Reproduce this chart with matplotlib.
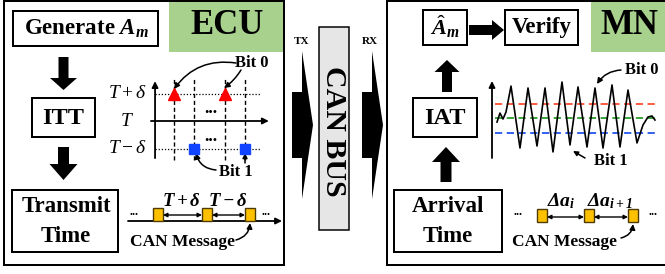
import numpy as np
import matplotlib.pyplot as plt
from matplotlib.patches import Rectangle, FancyArrow

plt.rcParams['font.family'] = ['Liberation Serif', 'DejaVu Serif']
plt.rcParams.update({'mathtext.fontset': 'custom',
                     'mathtext.rm': 'Liberation Serif',
                     'mathtext.it': 'Liberation Serif:italic',
                     'mathtext.bf': 'Liberation Serif:bold:italic'})

# ---- data ----
itt_levels = [1, 0, -1]
itt_level_labels = [r'$T+\delta$', r'$T$', r'$T-\delta$']
itt_slots = [1, 2, 3.5, 4.5]          # transmission slots
itt_bits = [0, 1, 0, 1]               # bit 0 -> T+d, bit 1 -> T-d

iat_t = [2, 5, 8, 11, 16, 25, 33, 42, 50, 58, 67, 75, 83, 92, 100, 108,
         117, 125, 133, 142, 148, 153, 157, 160]
iat_v = [-0.28, 0.34, -0.07, 0.41, 2.2, -2.07, 2.07, -1.93, 2.07, -2.34,
         2.48, -1.86, 2.14, -2.0, 2.07, -2.07, 2.28, -2.0, 1.93, -1.72,
         -0.48, 0.07, 0.14, -0.14]
iat_thresholds = [1, 0, -1]
iat_colors = ['#ff4d2e', '#2a9d2a', '#2255ee']

tx_gaps = [49, 43]
tx_gap_labels = [r'$\mathbf{T+\delta}$', r'$\mathbf{T-\delta}$']
rx_gaps = [47, 44]
rx_gap_labels = [r'$\mathbf{\Delta a}_{\mathbf{i}}$', r'$\mathbf{\Delta a}_{\mathbf{i+1}}$']

W, H = 665, 274
PX = 0.72
fig = plt.figure(figsize=(W / 100, H / 100), dpi=100)
ax = fig.add_axes([0, 0, 1, 1])
ax.set_xlim(0, W)
ax.set_ylim(H, 0)
ax.axis('off')

GREEN = '#a9d18e'


def box(x0, y0, x1, y1, fc='white', lw=2, z=2):
    ax.add_patch(Rectangle((x0, y0), x1 - x0, y1 - y0, fc=fc, ec='black',
                           lw=lw * PX, zorder=z))


def txt(x, y, s, size, **kw):
    kw.setdefault('fontweight', 'bold')
    ax.text(x, y, s, fontsize=size, ha=kw.pop('ha', 'center'),
            va=kw.pop('va', 'center'), zorder=5, **kw)


def block_arrow(x, y, dx, dy, w, hw, hl):
    ax.add_patch(FancyArrow(x, y, dx, dy, width=w, head_width=hw, head_length=hl,
                            length_includes_head=True, fc='black', ec='black',
                            lw=0, zorder=4))


def curved(xy, xytext, rad, ms=8):
    ax.annotate('', xy=xy, xytext=xytext, zorder=6,
                arrowprops=dict(arrowstyle='-|>', color='black', lw=1.1,
                                shrinkA=0, shrinkB=0, mutation_scale=ms,
                                connectionstyle='arc3,rad=%s' % rad))


def inset(x0, y0, x1, y1):
    a = fig.add_axes([x0 / W, 1 - y1 / H, (x1 - x0) / W, (y1 - y0) / H])
    a.axis('off')
    a.patch.set_alpha(0)
    return a


# ---- left panel (ECU) ----
box(4, 1, 284, 265, z=1)
ax.add_patch(Rectangle((169, 2), 114, 50, fc=GREEN, ec='none', zorder=1.5))
txt(227, 26, 'ECU', 25)
box(13, 11, 158, 46)
txt(87, 29, r'Generate $\mathbf{A}_{\mathbf{m}}$', 16.5)
block_arrow(63.5, 57, 0, 33, 10, 27, 12)
box(32, 98, 95, 137)
txt(63.5, 118, 'ITT', 17.5)
block_arrow(63.5, 147, 0, 33, 11, 28, 16)
box(12, 190, 118, 252)
txt(66, 207, 'Transmit', 16.5)
txt(66, 236, 'Time', 16.5)

# ITT plot
ai = inset(148, 75, 272, 162)
ai.set_xlim((148 - 153) / 20.5, (272 - 153) / 20.5)
ai.set_ylim((121 - 162) / 27.5, (121 - 75) / 27.5)
for lv in [1, -1]:
    ai.plot([0.1, 5.22], [lv, lv], ls=(0, (1, 1.5)), color='black', lw=0.9)
for s in itt_slots:
    ai.plot([s, s], [-1.42, 1.56], ls=(0, (3, 2)), color='black', lw=1)
ai.annotate('', xy=(5.65, 0), xytext=(-0.1, 0),
            arrowprops=dict(arrowstyle='-|>', color='black', lw=1.3,
                            shrinkA=0, shrinkB=0, mutation_scale=9))
ai.annotate('', xy=(0.1, 1.45), xytext=(0.1, -1.35),
            arrowprops=dict(arrowstyle='-|>', color='black', lw=1.3,
                            shrinkA=0, shrinkB=0, mutation_scale=9))
for s, b in zip(itt_slots, itt_bits):
    if b == 0:
        ai.plot(s, 1, marker='^', color='#ff0000', ms=8, mec='#ff0000', zorder=5)
    else:
        ai.plot(s, -1, marker='s', color='#1144ff', ms=6.5, mec='#1144ff', zorder=5)
for lv in [0.45, -0.55]:
    ai.text((itt_slots[1] + itt_slots[2]) / 2 + 0.05, lv, '...', fontsize=13,
            fontweight='bold', ha='center', va='center')
for lv, lab in zip(itt_levels, itt_level_labels):
    txt(127, 121 - 27.5 * lv, lab, 14, fontweight='normal')
txt(252, 63, 'Bit 0', 12)
curved((174, 89), (236, 63), 0.3)
curved((224, 88), (241, 70), -0.1)
txt(236, 172, 'Bit 1', 12)
curved((196, 153), (216, 170), -0.35)
curved((245, 153), (245, 163), 0.0, ms=7)

# transmit timeline
ax.annotate('', xy=(282, 221), xytext=(128, 221), zorder=3,
            arrowprops=dict(arrowstyle='-|>', color='black', lw=1.3,
                            shrinkA=0, shrinkB=0, mutation_scale=9))
tx_pos = np.cumsum([158] + tx_gaps)
for p in tx_pos:
    ax.add_patch(Rectangle((p - 5, 208), 10, 13, fc='#ffc000', ec='#4d3b00',
                           lw=1, zorder=4))
for i, lab in enumerate(tx_gap_labels):
    ax.annotate('', xy=(tx_pos[i + 1] - 5, 215), xytext=(tx_pos[i] + 5, 215),
                zorder=4, arrowprops=dict(arrowstyle='<|-|>', color='black',
                                          lw=1, shrinkA=0, shrinkB=0,
                                          mutation_scale=6))
    txt((tx_pos[i] + tx_pos[i + 1]) / 2 - 1, 201, lab, 13.5)
txt(134, 212, '...', 9)
txt(266, 212, '...', 9)
txt(182, 242, 'CAN Message', 12.5)
curved((250, 223), (236, 240), 0.35)

# ---- middle: TX / CAN BUS / RX ----
txt(302, 42, 'TX', 8)
txt(370, 42, 'RX', 8)
block_arrow(292, 125, 21, 0, 66, 148, 11)
block_arrow(362, 125, 21, 0, 66, 148, 11)
box(319, 27, 349, 230, fc='#e6e6e6', lw=1.5)
txt(334, 131, 'CAN BUS', 21.5, rotation=-90)

# ---- right panel (MN) ----
box(387, 1, 680, 265, z=1)
ax.add_patch(Rectangle((591, 2), 80, 50, fc=GREEN, ec='none', zorder=1.5))
txt(629, 26, 'MN', 25)
box(423, 10, 467, 45)
txt(445, 27, r'$\hat{\mathbf{A}}_{\mathbf{m}}$', 16)
block_arrow(469, 30, 35, 0, 10, 20, 12)
box(505, 10, 578, 45)
txt(542, 28, 'Verify', 16.5)
block_arrow(447, 92, 0, -32, 10, 25, 12)
box(413, 98, 477, 137)
txt(445, 118, 'IAT', 17.5)
block_arrow(446, 182, 0, -35, 11, 28, 15)
box(394, 190, 502, 252)
txt(448, 207, 'Arrival', 16.5)
txt(448, 236, 'Time', 16.5)

# IAT plot
aw = inset(490, 78, 662, 160)
aw.set_xlim(490 - 495, 662 - 495)
aw.set_ylim((118 - 160) / 14.5, (118 - 78) / 14.5)
for lv, c in zip(iat_thresholds, iat_colors):
    aw.plot([0, 162], [lv, lv], ls=(0, (4, 2.5)), color=c, lw=1.3)
aw.plot(iat_t, iat_v, color='black', lw=1.2, zorder=4)
aw.annotate('', xy=(-3, (118 - 81) / 14.5), xytext=(-3, (118 - 158) / 14.5),
            arrowprops=dict(arrowstyle='-|>', color='black', lw=1.3,
                            shrinkA=0, shrinkB=0, mutation_scale=9))
txt(642, 70, 'Bit 0', 12)
curved((597, 84), (621, 70), 0.25)
txt(611, 161, 'Bit 1', 12)
curved((573, 151), (585, 158), 0.0, ms=7)

# arrival timeline
ax.annotate('', xy=(668, 223), xytext=(512, 223), zorder=3,
            arrowprops=dict(arrowstyle='-|>', color='black', lw=1.3,
                            shrinkA=0, shrinkB=0, mutation_scale=9))
rx_pos = np.cumsum([542] + rx_gaps)
for p in rx_pos:
    ax.add_patch(Rectangle((p - 5, 209), 10, 13, fc='#ffc000', ec='#4d3b00',
                           lw=1, zorder=4))
for i, lab in enumerate(rx_gap_labels):
    ax.annotate('', xy=(rx_pos[i + 1] - 5, 217), xytext=(rx_pos[i] + 5, 217),
                zorder=4, arrowprops=dict(arrowstyle='<|-|>', color='black',
                                          lw=1, shrinkA=0, shrinkB=0,
                                          mutation_scale=6))
txt(561, 201, rx_gap_labels[0], 14)
txt(610, 201, rx_gap_labels[1], 14)
txt(518, 212, '...', 9)
txt(653, 212, '...', 9)
txt(564, 242, 'CAN Message', 12.5)
curved((633, 224), (621, 238), 0.35)

fig.savefig('out.png', dpi=100)
